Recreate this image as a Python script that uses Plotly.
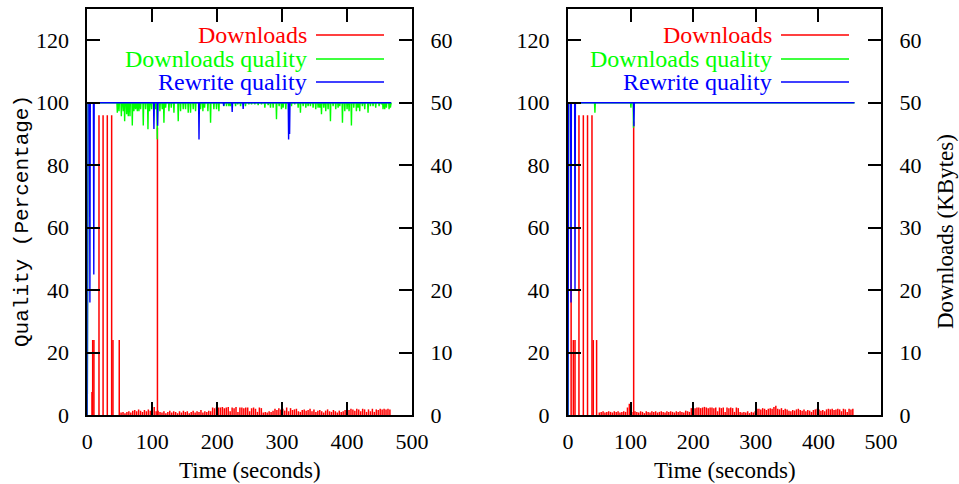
import plotly.graph_objects as go

W, H = 959, 484

# ---------------- DATA ----------------
# Left panel: large early downloads (KBytes)
L_big_t = [7.2, 8.3, 10.2, 18.0, 24.3, 30.8, 37.5, 39.5, 49.2, 108.0]
L_big_v = [3.7, 12.0, 12.0, 48.0, 48.0, 48.0, 48.0, 12.0, 12.0, 46.0]
# Left panel: small downloads, sampled every 3 s from t=52
L_small_start, L_small_step = 52, 3
L_small_v = [0.4, 0.5, 0.3, 0.5, 0.6, 0.4, 0.7,
             0.8, 0.6, 0.9, 0.7, 0.5, 0.8, 0.6, 0.9, 0.7, 0.8, 1.3,
             0.6,
             0.7, 0.5, 0.4, 0.6, 0.3, 0.5, 0.7, 0.4, 0.6, 0.5, 0.3, 0.6, 0.4, 0.7,
             0.5, 0.6, 0.3, 0.5, 0.7, 0.4, 0.6, 0.5, 0.8, 0.4, 0.6, 0.5, 0.7, 0.6,
             1.2, 1.1, 1.3, 1.2, 1.2, 1.3, 1.1, 1.2, 1.3, 0.6, 1.2, 1.1, 1.3, 0.5,
             1.2, 1.2, 1.1, 1.2, 1.2, 0.6, 1.1, 1.2, 1.0, 0.5, 1.2, 1.1, 0.4,
             0.5, 0.4, 0.6, 0.5, 0.7, 1.0, 0.8, 1.1, 0.9,
             1.0, 0.7, 1.2, 0.6, 1.1, 0.8, 0.9, 1.0, 0.6, 0.5, 0.8,
             0.9, 0.7, 0.8, 1.0, 0.6, 0.9, 0.5, 0.7, 0.8, 0.6, 0.4,
             0.7, 0.9, 0.6, 0.5, 0.8, 0.6, 0.4, 0.7, 0.5, 0.6, 0.8,
             0.9, 0.8, 1.0, 0.9, 0.7, 1.0, 0.9, 0.6, 1.0, 0.9, 0.5,
             0.9, 0.6, 1.0, 0.5, 0.9, 0.8, 1.0, 0.9, 1.0, 0.9, 1.0, 0.9]

# Left panel: Downloads quality (%) dips below 100
L_dq_t = [46.2, 48.8, 52.4, 55.4, 57.5, 60.6, 63.1, 65.7, 69.3, 71.8, 74.4, 77.0, 79.5,
          82.1, 86.2, 89.8, 93.4, 95.9, 99.0, 105.2, 107.7, 111.8, 115.4, 118.0, 120.6,
          125.7, 129.3, 133.4, 140.0, 143.6, 147.7, 151.3, 155.4, 159.0, 163.1, 166.7,
          174.4, 178.0, 180.6, 185.7, 189.8, 194.9, 199.0, 202.6, 210.3, 214.4, 218.0,
          220.6, 228.3, 231.8, 236.0, 243.6, 248.8, 252.9, 258.0, 263.1, 268.2, 273.4,
          278.5, 282.1, 286.2, 291.3, 295.4, 299.0, 301.6, 305.7, 314.4, 319.5, 324.7,
          328.2, 332.4, 336.5, 340.0, 343.6, 347.7, 351.8, 355.4, 358.0, 360.6, 364.1,
          367.2, 370.8, 374.4, 378.5, 382.6, 386.2, 388.8, 392.9, 396.5, 400.0, 403.1,
          406.7, 410.3, 414.4, 417.0, 419.5, 423.6, 427.2, 432.3, 436.0, 440.0, 444.1,
          449.3, 452.9, 455.4, 458.0, 460.6, 464.7, 466.7]
L_dq_v = [96.8, 97.3, 95.7, 97.3, 94.1, 96.3, 95.7, 95.7, 92.7, 97.3, 97.9, 97.3, 97.3,
          97.9, 92.7, 97.9, 91.5, 97.3, 97.9, 97.9, 88.3, 97.3, 97.9, 93.6, 98.4,
          97.3, 98.4, 96.8, 94.1, 97.3, 97.9, 97.9, 96.8, 96.8, 97.9, 97.3,
          97.9, 97.3, 98.4, 97.3, 93.6, 97.9, 97.9, 97.3, 98.9, 98.9, 98.9,
          98.9, 98.9, 99.5, 98.9, 98.9, 99.5, 99.5, 99.5, 99.2, 99.5, 98.4,
          99.2, 98.4, 98.4, 94.7, 98.9, 97.9, 98.4, 97.9, 98.9, 99.5, 98.4,
          96.8, 98.9, 98.4, 98.9, 98.9, 98.4, 97.9, 98.4, 98.4, 96.3, 98.4,
          97.3, 97.9, 94.1, 98.9, 97.9, 98.4, 98.9, 93.6, 97.3, 97.9, 97.3,
          92.7, 98.4, 97.3, 98.4, 97.3, 98.9, 97.9, 96.8, 98.9, 98.9, 98.4,
          98.9, 99.5, 97.9, 97.9, 98.4, 97.9, 98.4]
L_rq_t = [4.0, 10.0, 102.6, 108.3, 172.0, 210.0, 223.1, 240.0, 310.0, 311.5]
L_rq_v = [36.0, 45.0, 91.6, 92.6, 88.2, 99.0, 97.0, 98.0, 88.2, 90.0]
L_end = 468.0

# Right panel
R_big_t = [5.0, 8.5, 11.2, 17.5, 24.5, 31.2, 38.3, 40.4, 45.7, 104.9]
R_big_v = [30.0, 12.0, 12.0, 48.0, 48.0, 48.0, 48.0, 12.0, 12.0, 47.0]
R_small_start, R_small_step = 50, 3
R_small_v = [0.4, 0.5, 0.6, 0.4, 0.5, 0.6, 0.5, 0.4, 0.6, 0.5, 0.6, 0.4, 0.5, 0.6, 0.5,
             1.2, 1.8, 0.6, 0.5,
             0.6, 0.5, 0.4, 0.6, 0.5, 0.3, 0.6, 0.5, 0.4, 0.6, 0.5, 0.6, 0.4, 0.5, 0.6,
             0.5, 0.4, 0.6, 0.5, 0.6, 0.5, 0.4, 0.6, 0.5, 0.6, 0.5, 0.4, 0.7, 0.6, 0.5,
             1.1, 1.2, 1.1, 1.2, 1.2, 1.1, 1.2, 1.3, 1.2, 1.1, 1.2, 1.2, 1.1, 1.2, 0.6,
             1.2, 1.1, 1.2, 0.5, 1.2, 1.1, 1.2, 1.1, 0.5, 1.2, 1.1, 0.5, 0.4,
             0.5, 0.4, 0.6, 0.3, 0.5, 0.4, 0.6, 1.0,
             1.0, 0.9, 1.1, 1.0, 0.8, 1.0, 1.1, 1.0, 1.3, 1.5, 1.0, 0.9, 1.1, 0.8, 1.0, 0.9,
             0.7, 0.6, 0.8, 0.7, 0.9, 1.0, 0.8, 0.7, 0.9, 0.6, 0.8, 0.7, 0.5, 0.8, 0.9,
             1.0, 0.9, 0.7, 0.8, 0.6, 0.9, 1.0, 0.9, 1.0, 0.8, 0.9, 1.0, 0.9, 0.6, 1.0,
             0.9, 0.5, 1.0, 0.9, 1.0]
R_dq_t = [43.0, 100.5, 104.6]
R_dq_v = [96.8, 98.4, 92.0]
R_rq_t = [4.8, 11.2, 105.3]
R_rq_v = [36.0, 40.0, 92.5]
R_end = 457.7

X_TICKS = [0, 100, 200, 300, 400, 500]
Q_TICKS = [0, 20, 40, 60, 80, 100, 120]
D_TICKS = [0, 10, 20, 30, 40, 50, 60]
LEGEND = ["Downloads", "Downloads quality", "Rewrite quality"]
COLORS = ["#ff0000", "#00ff00", "#0000ff"]

# ---------------- helpers ----------------
def impulses(ts, vs):
    xs, ys = [], []
    for t, v in zip(ts, vs):
        xs += [t, t, None]
        ys += [0, v, None]
    return xs, ys

def quality_line(ts, vs, end, hw=0.6):
    xs, ys = [0, 1], [0, 100]
    for t, v in sorted(zip(ts, vs)):
        xs += [t - hw, t, t + hw]
        ys += [100, v, 100]
    xs.append(end)
    ys.append(100)
    return xs, ys

fig = go.Figure()

panels = [
    dict(x="x", yd="y", yq="y2", big=(L_big_t, L_big_v),
         small=(L_small_start, L_small_step, L_small_v),
         dq=(L_dq_t, L_dq_v), rq=(L_rq_t, L_rq_v), end=L_end),
    dict(x="x2", yd="y3", yq="y4", big=(R_big_t, R_big_v),
         small=(R_small_start, R_small_step, R_small_v),
         dq=(R_dq_t, R_dq_v), rq=(R_rq_t, R_rq_v), end=R_end),
]

for p in panels:
    s0, st, sv = p["small"]
    st_t = [s0 + st * i for i in range(len(sv))]
    xs, ys = impulses(list(p["big"][0]) + st_t, list(p["big"][1]) + sv)
    fig.add_trace(go.Scatter(x=xs, y=ys, mode="lines", xaxis=p["x"], yaxis=p["yd"],
                             line=dict(color=COLORS[0], width=1.5), name=LEGEND[0],
                             showlegend=False, hoverinfo="skip"))
    xs, ys = quality_line(*p["dq"], p["end"])
    fig.add_trace(go.Scatter(x=xs, y=ys, mode="lines", xaxis=p["x"], yaxis=p["yq"],
                             line=dict(color=COLORS[1], width=1.4), name=LEGEND[1],
                             showlegend=False, hoverinfo="skip"))
    xs, ys = quality_line(*p["rq"], p["end"])
    fig.add_trace(go.Scatter(x=xs, y=ys, mode="lines", xaxis=p["x"], yaxis=p["yq"],
                             line=dict(color=COLORS[2], width=1.4), name=LEGEND[2],
                             showlegend=False, hoverinfo="skip"))

FONT = "Liberation Serif"
tickfont = dict(family=FONT, size=22, color="black")
common_axis = dict(showgrid=False, zeroline=False, ticks="inside", ticklen=13,
                   tickwidth=2, tickcolor="black", linecolor="black", linewidth=2,
                   tickfont=tickfont, automargin=False)

YDOM = [69 / H, 475 / H]
XDOM1 = [87.3 / W, 412.0 / W]
XDOM2 = [568.0 / W, 881.0 / W]

fig.update_layout(
    width=W, height=H, autosize=False,
    margin=dict(l=0, r=0, t=0, b=0, pad=0),
    paper_bgcolor="white", plot_bgcolor="white",
    showlegend=False,
    xaxis=dict(domain=XDOM1, range=[0, 500], tickvals=X_TICKS, anchor="y",
               showline=True, mirror="ticks", ticklabelstandoff=6, **common_axis),
    xaxis2=dict(domain=XDOM2, range=[0, 500], tickvals=X_TICKS, anchor="y3",
                showline=True, mirror="ticks", ticklabelstandoff=6, **common_axis),
    yaxis=dict(domain=YDOM, range=[0, 65], tickvals=D_TICKS, side="right", anchor="x",
               showline=True, ticklabelstandoff=12, **common_axis),
    yaxis2=dict(range=[0, 130], tickvals=Q_TICKS, side="left", overlaying="y", anchor="x",
                showline=True, ticklabelstandoff=12, **common_axis),
    yaxis3=dict(domain=YDOM, range=[0, 65], tickvals=D_TICKS, side="right", anchor="x2",
                showline=True, ticklabelstandoff=12, **common_axis),
    yaxis4=dict(range=[0, 130], tickvals=Q_TICKS, side="left", overlaying="y3", anchor="x2",
                showline=True, ticklabelstandoff=12, **common_axis),
)

# Axis titles
annos = []
for cx in [(XDOM1[0] + XDOM1[1]) / 2, (XDOM2[0] + XDOM2[1]) / 2]:
    annos.append(dict(text="Time (seconds)", x=cx, y=(H - 470) / H, xref="paper", yref="paper",
                      xanchor="center", yanchor="middle", showarrow=False,
                      font=dict(family=FONT, size=23, color="black")))
annos.append(dict(text="Quality (Percentage)", x=22 / W, y=(H - 221) / H, xref="paper",
                  yref="paper", xanchor="center", yanchor="middle", showarrow=False,
                  textangle=-90,
                  font=dict(family="Liberation Mono", size=21, color="black")))
annos.append(dict(text="Downloads (KBytes)", x=946 / W, y=(H - 232) / H, xref="paper",
                  yref="paper", xanchor="center", yanchor="middle", showarrow=False,
                  textangle=-90,
                  font=dict(family=FONT, size=23, color="black")))

# Gnuplot-style key: text right aligned, then line sample
shapes = []
rows_y = [35, 59, 82]
for text_right, s0, s1 in [(309, 316, 384), (774, 781, 849)]:
    for name, col, ry in zip(LEGEND, COLORS, rows_y):
        annos.append(dict(text=name, x=text_right / W, y=(H - ry) / H, xref="paper",
                          yref="paper", xanchor="right", yanchor="middle", showarrow=False,
                          font=dict(family=FONT, size=24, color=col)))
        shapes.append(dict(type="line", xref="paper", yref="paper",
                           x0=s0 / W, x1=s1 / W, y0=(H - ry) / H, y1=(H - ry) / H,
                           line=dict(color=col, width=1.3)))

fig.update_layout(annotations=annos, shapes=shapes)
fig.write_html("out.html", config={"displayModeBar": False},
               post_script="document.body.style.margin='0';document.body.style.overflow='hidden';")
